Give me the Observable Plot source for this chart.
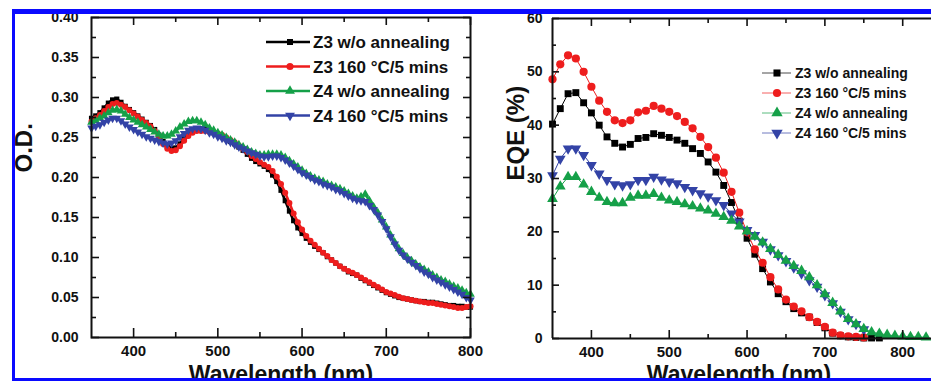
<!DOCTYPE html>
<html><head><meta charset="utf-8">
<script src="https://cdn.jsdelivr.net/npm/d3@7"></script>
<script src="https://cdn.jsdelivr.net/npm/@observablehq/plot@0.6"></script>
<style>
html,body{margin:0;padding:0;background:#fff;}
#wrap{position:relative;width:931px;height:381px;overflow:hidden;background:#fff;}
.panel{position:absolute;top:0;}
.bar{position:absolute;background:#0a0aff;z-index:5;}
#legend{position:absolute;left:0;top:0;z-index:3;pointer-events:none;}
</style></head><body><div id="wrap"></div>
<script>
// ---------- data ----------
const seriesNames = ["Z3 w/o annealing", "Z3 160 \u00B0C/5 mins", "Z4 w/o annealing", "Z4 160 \u00B0C/5 mins"];
const seriesColors = ["#000000", "#ee1d1d", "#15a048", "#3343a6"];
const seriesSymbols = ["square", "circle", "triangle", "triangle"];
const seriesRotate = [0, 0, 0, 180];

// Left panel: optical density
const odWavelength = [
  350,355,360,365,370,375,380,385,390,395,
  400,405,410,415,420,425,430,435,440,445,
  450,455,460,465,470,475,480,485,490,495,
  500,505,510,515,520,525,530,535,540,545,
  550,555,560,565,570,575,580,585,590,595,
  600,605,610,615,620,625,630,635,640,645,
  650,655,660,665,670,675,680,685,690,695,
  700,705,710,715,720,725,730,735,740,745,
  750,755,760,765,770,775,780,785,790,795,
  800];
const odZ3wo = [
  0.274,0.277,0.281,0.287,0.293,0.297,0.298,0.294,0.289,0.285,
  0.281,0.277,0.273,0.269,0.265,0.260,0.253,0.245,0.239,0.236,
  0.237,0.242,0.250,0.256,0.259,0.261,0.261,0.260,0.258,0.256,
  0.254,0.251,0.248,0.245,0.242,0.238,0.234,0.229,0.224,0.220,
  0.217,0.214,0.210,0.203,0.195,0.184,0.171,0.158,0.146,0.137,
  0.130,0.124,0.119,0.114,0.110,0.106,0.101,0.097,0.093,0.089,
  0.086,0.082,0.080,0.078,0.074,0.071,0.068,0.065,0.062,0.059,
  0.056,0.054,0.052,0.050,0.049,0.048,0.047,0.046,0.045,0.045,
  0.044,0.044,0.043,0.042,0.041,0.040,0.040,0.039,0.039,0.038,
  0.038];
const odZ3ann = [
  0.270,0.274,0.278,0.283,0.288,0.292,0.293,0.291,0.288,0.284,
  0.280,0.276,0.272,0.268,0.264,0.258,0.250,0.242,0.236,0.233,
  0.234,0.239,0.246,0.252,0.256,0.258,0.258,0.258,0.257,0.256,
  0.255,0.253,0.250,0.247,0.244,0.240,0.236,0.232,0.227,0.223,
  0.219,0.216,0.213,0.208,0.201,0.192,0.181,0.168,0.155,0.144,
  0.135,0.127,0.121,0.116,0.111,0.106,0.102,0.097,0.093,0.089,
  0.086,0.083,0.081,0.078,0.075,0.072,0.069,0.066,0.063,0.060,
  0.057,0.055,0.053,0.051,0.049,0.048,0.047,0.046,0.045,0.044,
  0.043,0.043,0.042,0.041,0.040,0.039,0.038,0.037,0.037,0.038,
  0.039];
const odZ4wo = [
  0.269,0.271,0.274,0.277,0.281,0.284,0.285,0.283,0.279,0.275,
  0.272,0.269,0.266,0.263,0.260,0.257,0.254,0.252,0.252,0.254,
  0.258,0.263,0.267,0.270,0.271,0.271,0.269,0.266,0.262,0.259,
  0.256,0.253,0.250,0.247,0.244,0.241,0.238,0.235,0.232,0.230,
  0.228,0.228,0.229,0.229,0.229,0.228,0.225,0.221,0.217,0.213,
  0.209,0.205,0.202,0.199,0.197,0.195,0.192,0.190,0.188,0.186,
  0.183,0.180,0.177,0.174,0.176,0.179,0.171,0.163,0.156,0.147,
  0.138,0.128,0.119,0.111,0.105,0.100,0.096,0.092,0.088,0.085,
  0.082,0.078,0.075,0.072,0.070,0.067,0.064,0.062,0.059,0.056,
  0.054];
const odZ4ann = [
  0.262,0.264,0.266,0.269,0.272,0.274,0.274,0.271,0.267,0.263,
  0.260,0.257,0.254,0.251,0.249,0.247,0.245,0.243,0.242,0.243,
  0.246,0.251,0.255,0.259,0.261,0.262,0.261,0.259,0.256,0.254,
  0.251,0.249,0.246,0.244,0.241,0.238,0.236,0.233,0.231,0.229,
  0.227,0.226,0.226,0.227,0.227,0.225,0.222,0.218,0.214,0.210,
  0.206,0.203,0.200,0.197,0.195,0.192,0.190,0.188,0.185,0.183,
  0.180,0.177,0.174,0.172,0.171,0.170,0.165,0.160,0.153,0.145,
  0.136,0.126,0.117,0.109,0.103,0.098,0.094,0.090,0.086,0.082,
  0.079,0.075,0.072,0.069,0.066,0.063,0.060,0.057,0.054,0.050,
  0.047];

// Right panel: EQE (%)
const eqeWavelength = [
  350,360,370,380,390,400,410,420,430,440,
  450,460,470,480,490,500,510,520,530,540,
  550,560,570,580,590,600,610,620,630,640,
  650,660,670,680,690,700,710,720,730,740,
  750,760,770,780,790,800,810,820,830];
const eqeZ3wo = [
  40.2,43.1,45.9,46.1,44.2,42.3,40.0,37.8,36.6,35.9,
  36.4,37.5,37.7,38.4,38.1,37.7,37.2,36.6,35.6,34.7,
  33.1,31.2,28.7,25.5,22.0,18.8,15.8,13.1,10.6,8.4,
  6.9,5.6,4.8,4.0,3.0,2.0,1.0,0.5,0.3,0.2,
  0.1,0.1,0.1];
const eqeZ3ann = [
  48.6,51.4,53.1,52.5,50.0,47.2,44.6,42.5,40.9,40.4,
  40.9,42.4,42.7,43.6,43.1,42.5,41.7,40.6,39.4,37.8,
  35.9,33.9,31.1,27.5,23.6,19.9,16.7,14.2,11.5,9.2,
  7.3,6.0,5.1,4.0,3.1,2.2,1.1,0.6,0.4,0.3,
  0.2];
const eqeZ4wo = [
  26.2,28.5,30.3,30.3,28.9,27.5,26.4,25.6,25.4,25.4,
  26.4,26.8,26.8,27.1,26.4,25.9,25.6,25.2,24.8,24.4,
  24.0,23.4,22.8,22.1,21.0,20.1,19.1,18.0,16.8,15.7,
  14.6,13.6,12.7,11.5,10.0,8.3,6.7,5.1,3.7,2.7,
  1.8,1.2,0.9,0.7,0.5,0.4,0.3,0.3,0.2];
const eqeZ4ann = [
  30.6,33.7,35.6,35.6,34.4,32.5,30.9,29.7,28.9,28.7,
  28.9,29.7,29.7,30.3,29.8,29.4,29.1,28.4,27.8,27.2,
  26.6,25.9,25.0,23.4,21.9,20.3,19.4,18.1,16.7,15.6,
  14.5,13.3,12.2,10.9,9.7,8.1,6.6,5.0,3.6,2.7,
  1.7];

// ticks
const odTicksX = [400, 500, 600, 700, 800];
const odMinorX = [450, 550, 650, 750];
const odTicksY = [0, 0.05, 0.10, 0.15, 0.20, 0.25, 0.30, 0.35, 0.40];
const odMinorY = [0.025, 0.075, 0.125, 0.175, 0.225, 0.275, 0.325, 0.375];
const eqeTicksX = [400, 500, 600, 700, 800];
const eqeMinorX = [450, 550, 650, 750];
const eqeTicksY = [0, 10, 20, 30, 40, 50, 60];
const eqeMinorY = [5, 15, 25, 35, 45, 55];

// ---------- drawing ----------
const FONT = '"Liberation Sans", Arial, Helvetica, sans-serif';
const rowsFor = (wl, vals) => vals.map((v, i) => ({x: wl[i], y: v}));
const wrap = document.getElementById("wrap");

function seriesMarks(wls, all, order, lineW, rs) {
  const marks = [];
  for (const i of order) {
    const rows = rowsFor(wls, all[i]);
    marks.push(Plot.line(rows, {x: "x", y: "y", stroke: seriesColors[i], strokeWidth: lineW}));
    marks.push(Plot.dot(rows, {x: "x", y: "y", symbol: seriesSymbols[i], rotate: seriesRotate[i], r: rs[i], fill: seriesColors[i], stroke: "none"}));
  }
  return marks;
}

// Left panel
const Lw = 500, Lh = 381, LmL = 91, LmR = 30, LmT = 17, LmB = 44;
const Liw = Lw - LmL - LmR, Lih = Lh - LmT - LmB;
const left = Plot.plot({
  width: Lw, height: Lh, marginLeft: LmL, marginRight: LmR, marginTop: LmT, marginBottom: LmB,
  style: {background: "transparent", fontFamily: FONT, fontWeight: "bold", overflow: "visible", color: "#111"},
  x: {domain: [350, 800]},
  y: {domain: [0, 0.40]},
  marks: [
    Plot.axisX(odTicksX, {tickSize: 0, tickPadding: 8, fontSize: 15, label: null}),
    Plot.axisY(odTicksY, {tickSize: 0, tickPadding: 13, fontSize: 14, label: null, tickFormat: d3.format(".2f")}),
    ...seriesMarks(odWavelength, [odZ3wo, odZ3ann, odZ4wo, odZ4ann], [0, 1, 2, 3], 2.6, [2.9, 3.0, 3.2, 3.2]),
    Plot.frame({stroke: "#111", strokeWidth: 2}),
    Plot.tickY(odTicksY, {y: d => d, insetRight: Liw - 8, strokeWidth: 1.6, stroke: "#111"}),
    Plot.tickY(odMinorY, {y: d => d, insetRight: Liw - 5, strokeWidth: 1.6, stroke: "#111"}),
    Plot.tickY(odTicksY, {y: d => d, insetLeft: Liw - 7, strokeWidth: 1.6, stroke: "#111"}),
    Plot.tickY(odMinorY, {y: d => d, insetLeft: Liw - 4, strokeWidth: 1.6, stroke: "#111"}),
    Plot.tickX(odTicksX, {x: d => d, insetTop: Lih - 9, strokeWidth: 1.6, stroke: "#111"}),
    Plot.tickX(odMinorX, {x: d => d, insetTop: Lih - 5, strokeWidth: 1.6, stroke: "#111"}),
    Plot.tickX(odTicksX, {x: d => d, insetBottom: Lih - 8, strokeWidth: 1.6, stroke: "#111"}),
    Plot.tickX(odMinorX, {x: d => d, insetBottom: Lih - 5, strokeWidth: 1.6, stroke: "#111"}),
    Plot.text(["Wavelength (nm)"], {text: d => d, frameAnchor: "bottom", dy: 44, lineAnchor: "bottom", fontSize: 23, fontWeight: "bold", fill: "#111"}),
    Plot.text(["O.D."], {text: d => d, frameAnchor: "left", dx: -60, dy: -5, rotate: -90, lineAnchor: "bottom", fontSize: 24, fontWeight: "bold", fill: "#111"})
  ]
});
left.classList.add("panel");
left.style.left = "0px";
wrap.appendChild(left);

// Right panel
const Rx = 470, Rw = 461, Rh = 381, RmL = 82, RmR = 0, RmT = 18, RmB = 43;
const Riw = Rw - RmL - RmR, Rih = Rh - RmT - RmB;
const right = Plot.plot({
  width: Rw, height: Rh, marginLeft: RmL, marginRight: RmR, marginTop: RmT, marginBottom: RmB,
  style: {background: "transparent", fontFamily: FONT, fontWeight: "bold", overflow: "visible", color: "#111"},
  x: {domain: [350, 837]},
  y: {domain: [0, 60]},
  marks: [
    Plot.axisX(eqeTicksX, {tickSize: 0, tickPadding: 8, fontSize: 15, label: null}),
    Plot.axisY(eqeTicksY, {tickSize: 0, tickPadding: 10, fontSize: 14, label: null}),
    ...seriesMarks(eqeWavelength, [eqeZ3wo, eqeZ3ann, eqeZ4wo, eqeZ4ann], [0, 1, 3, 2], 1, [3.9, 4.1, 4.0, 4.0]),
    Plot.ruleX([350], {stroke: "#111", strokeWidth: 2}),
    Plot.ruleY([0, 60], {stroke: "#111", strokeWidth: 2}),
    Plot.tickY(eqeTicksY, {y: d => d, insetRight: Riw - 7, strokeWidth: 1.6, stroke: "#111"}),
    Plot.tickY(eqeMinorY, {y: d => d, insetRight: Riw - 4, strokeWidth: 1.6, stroke: "#111"}),
    Plot.tickX(eqeTicksX, {x: d => d, insetTop: Rih - 8, strokeWidth: 1.6, stroke: "#111"}),
    Plot.tickX(eqeMinorX, {x: d => d, insetTop: Rih - 4, strokeWidth: 1.6, stroke: "#111"}),
    Plot.tickX(eqeTicksX, {x: d => d, insetBottom: Rih - 8, strokeWidth: 1.6, stroke: "#111"}),
    Plot.tickX(eqeMinorX, {x: d => d, insetBottom: Rih - 5, strokeWidth: 1.6, stroke: "#111"}),
    Plot.text(["Wavelength (nm)"], {text: d => d, frameAnchor: "bottom", dx: -3, dy: 43, lineAnchor: "bottom", fontSize: 23, fontWeight: "bold", fill: "#111"}),
    Plot.text(["EQE (%)"], {text: d => d, frameAnchor: "left", dx: -29, dy: 2, rotate: -90, lineAnchor: "bottom", fontSize: 24, fontWeight: "bold", fill: "#111"})
  ]
});
right.classList.add("panel");
right.style.left = Rx + "px";
wrap.appendChild(right);

// ---------- legends ----------
const lg = d3.select(wrap).append("svg").attr("id", "legend").attr("width", 931).attr("height", 381);
const symbolType = {square: d3.symbolSquare, circle: d3.symbolCircle, triangle: d3.symbolTriangle};
function drawLegend(cfg) {
  seriesNames.forEach((name, i) => {
    const y = cfg.y0 + i * cfg.step;
    lg.append("line").attr("x1", cfg.x0).attr("x2", cfg.x1).attr("y1", y).attr("y2", y)
      .attr("stroke", seriesColors[i]).attr("stroke-width", cfg.lineW).attr("stroke-opacity", cfg.lineOpacity);
    lg.append("path").attr("d", d3.symbol(symbolType[seriesSymbols[i]], cfg.symSize[i])())
      .attr("transform", `translate(${cfg.mx},${y}) rotate(${seriesRotate[i]})`)
      .attr("fill", seriesColors[i]);
    lg.append("text").attr("x", cfg.tx).attr("y", y).attr("dy", "0.36em")
      .attr("font-family", FONT).attr("font-weight", "bold").attr("font-size", cfg.fontSize)
      .attr("fill", "#111").text(name);
  });
}
drawLegend({y0: 42, step: 24.5, x0: 266, x1: 310, mx: 290, tx: 313, lineW: 2.5, lineOpacity: 1, symSize: [36, 40, 42, 42], fontSize: 17});
drawLegend({y0: 73, step: 20, x0: 762, x1: 791, mx: 777, tx: 795, lineW: 1, lineOpacity: 0.7, symSize: [50, 52, 56, 56], fontSize: 14});

// ---------- blue page border ----------
for (const [l, t, w, h] of [[12, 9, 919, 5], [12, 9, 3, 372], [12, 378, 919, 3]]) {
  const b = document.createElement("div");
  b.className = "bar";
  Object.assign(b.style, {left: l + "px", top: t + "px", width: w + "px", height: h + "px"});
  wrap.appendChild(b);
}
</script>
</body></html>
